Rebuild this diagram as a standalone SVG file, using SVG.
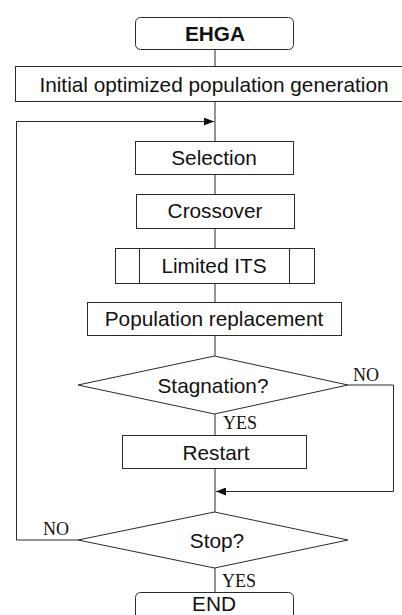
<svg xmlns="http://www.w3.org/2000/svg" width="402" height="615" viewBox="0 0 402 615">
<style>
.box{fill:#fff;stroke:#2a2a2a;stroke-width:1}
.ln{fill:none;stroke:#2a2a2a;stroke-width:1}
.t{font-family:"Liberation Sans",Arial,sans-serif;font-size:20.8px;fill:#111;text-anchor:middle}
.b{font-weight:bold}
.s{font-family:"Liberation Serif","Times New Roman",serif;font-size:18px;fill:#111}
</style>
<defs>
<marker id="arr" viewBox="0 0 10 8" refX="10" refY="4" markerWidth="10" markerHeight="8" markerUnits="userSpaceOnUse" orient="auto">
<path d="M0,0 L10,4 L0,8 Z" fill="#111"/>
</marker>
</defs>
<rect width="402" height="615" fill="#fff"/>
<g id="connectors">
<line class="ln" x1="215" y1="50" x2="215" y2="66"/>
<line class="ln" x1="215" y1="102" x2="215" y2="141"/>
<polyline class="ln" points="78,540 16.5,540 16.5,121.5 214,121.5" marker-end="url(#arr)"/>
<line class="ln" x1="215" y1="174" x2="215" y2="194"/>
<line class="ln" x1="215" y1="228" x2="215" y2="248"/>
<line class="ln" x1="215" y1="283" x2="215" y2="302"/>
<line class="ln" x1="215" y1="335" x2="215" y2="356"/>
<line class="ln" x1="215" y1="414" x2="215" y2="435"/>
<polyline class="ln" points="348,385 393.5,385 393.5,491.5 216,491.5" marker-end="url(#arr)"/>
<line class="ln" x1="215" y1="468" x2="215" y2="512"/>
<line class="ln" x1="215" y1="568" x2="215" y2="592"/>
<text class="s" x="353" y="381">NO</text>
<text class="s" x="223" y="429">YES</text>
<text class="s" x="43" y="535">NO</text>
<text class="s" x="222" y="587">YES</text>
</g>
<g id="ehga">
<rect class="box" x="135.5" y="17.5" width="158" height="32" rx="5"/>
<text class="t b" x="215" y="41">EHGA</text>
</g>
<g id="init">
<rect class="box" x="15.5" y="66.5" width="400" height="35"/>
<text class="t" x="214" y="92">Initial optimized population generation</text>
</g>
<g id="selection">
<rect class="box" x="135.5" y="141.5" width="158" height="33"/>
<text class="t" x="214" y="165">Selection</text>
</g>
<g id="crossover">
<rect class="box" x="136.5" y="194.5" width="158" height="34"/>
<text class="t" x="215" y="218">Crossover</text>
</g>
<g id="its">
<rect class="box" x="115.5" y="248.5" width="199" height="35"/>
<line class="ln" x1="139.5" y1="248.5" x2="139.5" y2="283.5"/>
<line class="ln" x1="289.5" y1="248.5" x2="289.5" y2="283.5"/>
<text class="t" x="214" y="273">Limited ITS</text>
</g>
<g id="replacement">
<rect class="box" x="87.5" y="302.5" width="254" height="33"/>
<text class="t" x="214" y="326">Population replacement</text>
</g>
<g id="stagnation">
<polygon class="box" points="214.5,356 348,385 214.5,414 78,385"/>
<text class="t" x="213" y="393">Stagnation?</text>
</g>
<g id="restart">
<rect class="box" x="122.5" y="435.5" width="184" height="33"/>
<text class="t" x="216" y="460">Restart</text>
</g>
<g id="stop">
<polygon class="box" points="214.5,512 348,540 214.5,568 78,540"/>
<text class="t" x="217" y="548">Stop?</text>
</g>
<g id="end">
<rect class="box" x="135.5" y="592.5" width="158" height="40" rx="5"/>
<text class="t" x="214" y="611">END</text>
</g>
</svg>
